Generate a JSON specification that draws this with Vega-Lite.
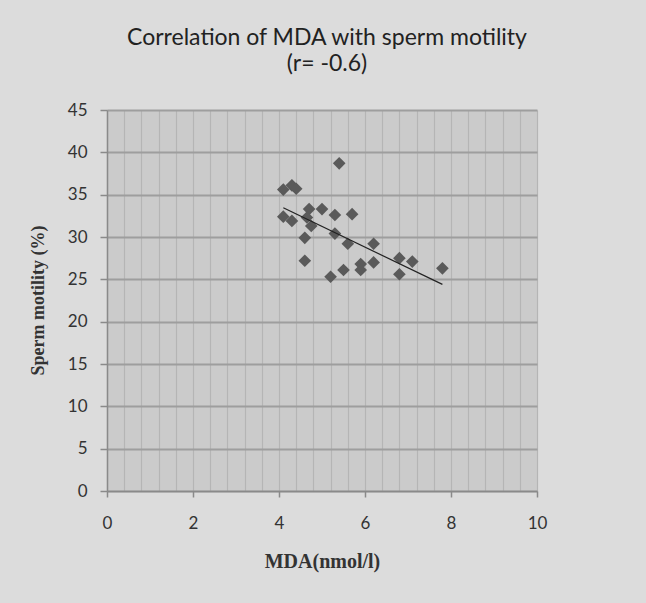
{
  "$schema": "https://vega.github.io/schema/vega-lite/v6.json",
  "width": 430,
  "height": 381,
  "autosize": {"type": "none"},
  "padding": {"left": 107, "top": 110, "right": 109, "bottom": 112},
  "background": "#dcdcdc",
  "title": {
    "text": ["Correlation of MDA with sperm motility", "(r= -0.6)"],
    "font": "Lato",
    "fontSize": 23,
    "fontWeight": "normal",
    "color": "#222222",
    "lineHeight": 26,
    "frame": "group",
    "anchor": "middle",
    "dx": 5,
    "offset": 25
  },
  "config": {
    "view": {"fill": "#cbcbcb", "stroke": null},
    "axis": {
      "labelFont": "Lato",
      "labelFontSize": 17,
      "labelColor": "#333333",
      "labelOverlap": false,
      "titleFont": "Liberation Serif",
      "titleFontSize": 18,
      "titleFontWeight": "bold",
      "titleColor": "#333333",
      "domainColor": "#8a8a8a",
      "domainWidth": 1.5,
      "tickColor": "#8a8a8a",
      "tickWidth": 1.5
    }
  },
  "datasets": {
    "points": [
      {"mda": 4.1, "motility": 35.6},
      {"mda": 4.3, "motility": 36.1},
      {"mda": 4.4, "motility": 35.7},
      {"mda": 5.4, "motility": 38.7},
      {"mda": 4.1, "motility": 32.4},
      {"mda": 4.3, "motility": 31.9},
      {"mda": 4.7, "motility": 33.3},
      {"mda": 4.65, "motility": 32.3},
      {"mda": 4.75, "motility": 31.3},
      {"mda": 5.0, "motility": 33.3},
      {"mda": 5.3, "motility": 32.6},
      {"mda": 5.7, "motility": 32.7},
      {"mda": 4.6, "motility": 29.9},
      {"mda": 5.3, "motility": 30.4},
      {"mda": 5.6, "motility": 29.2},
      {"mda": 6.2, "motility": 29.2},
      {"mda": 4.6, "motility": 27.2},
      {"mda": 5.2, "motility": 25.3},
      {"mda": 5.5, "motility": 26.1},
      {"mda": 5.9, "motility": 26.8},
      {"mda": 5.9, "motility": 26.1},
      {"mda": 6.2, "motility": 27.0},
      {"mda": 6.8, "motility": 27.5},
      {"mda": 7.1, "motility": 27.1},
      {"mda": 6.8, "motility": 25.6},
      {"mda": 7.8, "motility": 26.3}
    ],
    "trend": [
      {"mda": 4.1, "motility": 33.45},
      {"mda": 7.8, "motility": 24.4}
    ]
  },
  "layer": [
    {
      "data": {"name": "points"},
      "mark": {"type": "point", "shape": "diamond", "filled": true, "size": 160, "color": "#5a5a5a", "opacity": 1},
      "encoding": {
        "x": {
          "field": "mda",
          "type": "quantitative",
          "scale": {"domain": [0, 10], "nice": false},
          "axis": {
            "title": "MDA(nmol/l)",
            "titleFontSize": 20,
            "values": [0, 0.4, 0.8, 1.2, 1.6, 2, 2.4, 2.8, 3.2, 3.6, 4, 4.4, 4.8, 5.2, 5.6, 6, 6.4, 6.8, 7.2, 7.6, 8, 8.4, 8.8, 9.2, 9.6, 10],
            "tickCount": 40,
            "labelExpr": "abs(datum.value - round(datum.value / 2) * 2) < 0.01 ? format(round(datum.value), 'd') : ''",
            "tickOpacity": {"condition": {"test": "abs(datum.value - round(datum.value / 2) * 2) < 0.01", "value": 1}, "value": 0},
            "tickSize": 6,
            "labelPadding": 18,
            "labelFlush": false,
            "grid": true,
            "gridColor": "#b5b5b5",
            "gridWidth": 1.2,
            "titleY": 70,
            "titleBaseline": "middle"
          }
        },
        "y": {
          "field": "motility",
          "type": "quantitative",
          "scale": {"domain": [0, 45], "nice": false},
          "axis": {
            "title": "Sperm motility (%)",
            "values": [0, 5, 10, 15, 20, 25, 30, 35, 40, 45],
            "tickCount": 20,
            "format": "d",
            "tickSize": 7,
            "labelPadding": 13,
            "grid": true,
            "gridColor": "#9e9e9e",
            "gridWidth": 1.8,
            "titleX": -69,
            "titleY": 190,
            "titleBaseline": "middle",
            "titleAlign": "center",
            "titleAngle": -90
          }
        }
      }
    },
    {
      "data": {"name": "trend"},
      "mark": {"type": "line", "color": "#222222", "strokeWidth": 1.2},
      "encoding": {
        "x": {"field": "mda", "type": "quantitative"},
        "y": {"field": "motility", "type": "quantitative"}
      }
    }
  ]
}
